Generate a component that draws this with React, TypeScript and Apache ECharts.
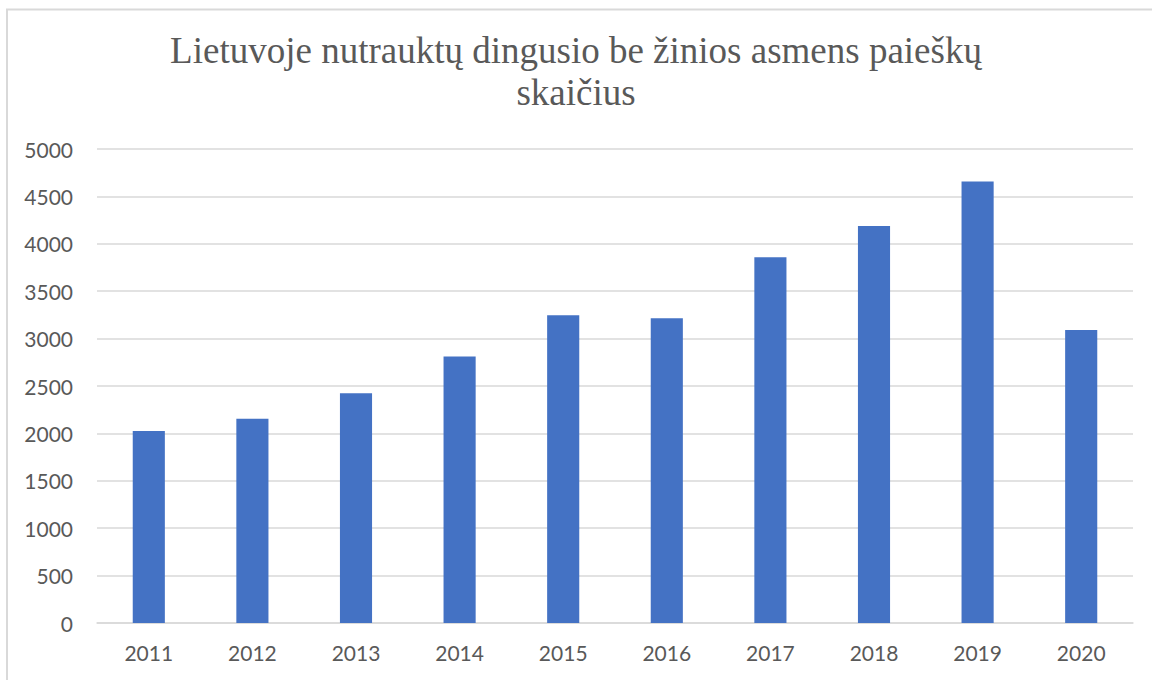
import React, { useEffect, useRef } from "react";
import * as echarts from "echarts";

const titleText = "Lietuvoje nutrauktų dingusio be žinios asmens paieškų\nskaičius";
const years = ["2011", "2012", "2013", "2014", "2015", "2016", "2017", "2018", "2019", "2020"];
const counts = [2025, 2155, 2423, 2810, 3247, 3215, 3859, 4187, 4658, 3092];

export default function App() {
  const ref = useRef<HTMLDivElement>(null);
  useEffect(() => {
    if (!ref.current) return;
    const chart = echarts.init(ref.current, undefined, { renderer: "svg" });
    chart.setOption({
      animation: false,
      backgroundColor: "#ffffff",
      graphic: [
        {
          type: "rect",
          shape: { x: 7, y: 9.5, width: 1200, height: 700 },
          style: { fill: "none", stroke: "#d9d9d9", lineWidth: 2 },
          silent: true,
        },
      ],
      title: {
        text: titleText,
        left: "center",
        top: 24,
        textStyle: {
          fontFamily: "Liberation Serif",
          fontSize: 37,
          fontWeight: "normal",
          color: "#595959",
          lineHeight: 42,
        },
      },
      grid: { left: 97, right: 19, top: 149, bottom: 57, containLabel: false },
      xAxis: {
        type: "category",
        data: years,
        axisLine: { show: true, lineStyle: { color: "#d9d9d9", width: 1.5 } },
        axisTick: { show: false },
        axisLabel: {
          color: "#595959",
          fontFamily: "Lato",
          fontSize: 21,
          margin: 19,
        },
      },
      yAxis: {
        type: "value",
        min: 0,
        max: 5000,
        interval: 500,
        axisLine: { show: false },
        axisTick: { show: false },
        splitLine: { lineStyle: { color: "#d9d9d9", width: 1.5 } },
        axisLabel: {
          color: "#595959",
          fontFamily: "Lato",
          fontSize: 21,
          margin: 24,
          formatter: (v: number) => String(v),
        },
      },
      series: [
        {
          type: "bar",
          data: counts,
          barWidth: "31%",
          itemStyle: { color: "#4472c4" },
        },
      ],
    });
    return () => chart.dispose();
  }, []);
  return (
    <div
      ref={ref}
      style={{ position: "fixed", left: 0, top: 0, width: 1152, height: 680 }}
    />
  );
}
